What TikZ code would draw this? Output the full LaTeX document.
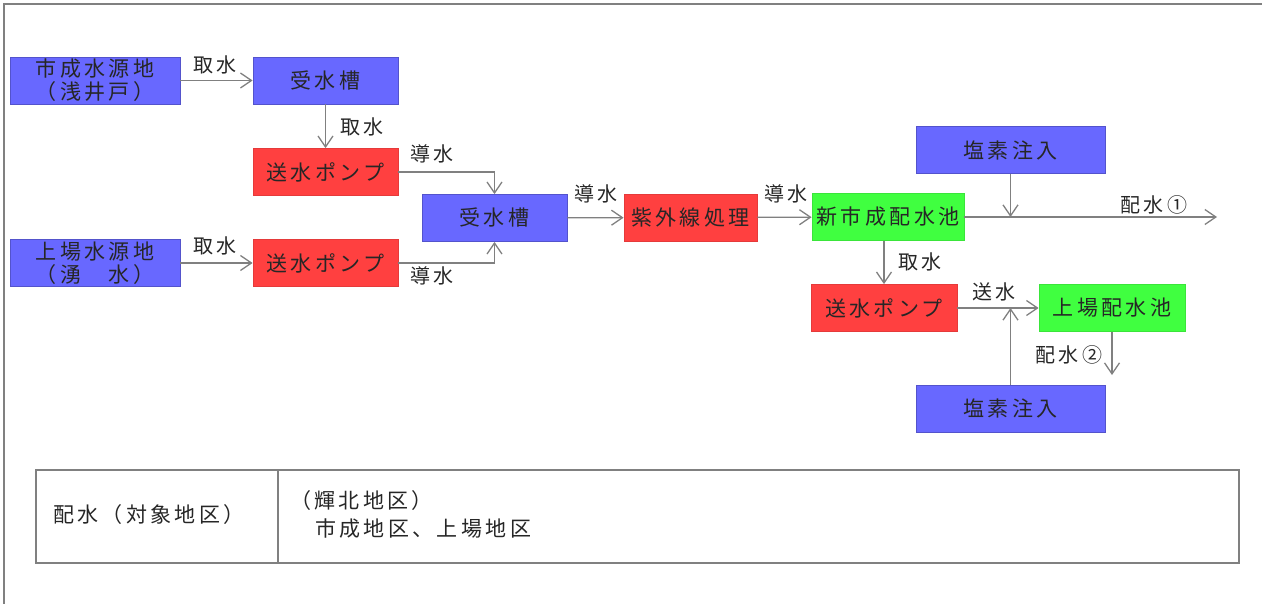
\documentclass[tikz,border=0pt]{standalone}
\usepackage{fontspec}
\setmainfont{Noto Sans CJK JP}[LetterSpace=16]
\usetikzlibrary{arrows.meta}
\definecolor{boxblue}{RGB}{104,104,255}
\definecolor{boxred}{RGB}{255,64,64}
\definecolor{boxgreen}{RGB}{64,255,64}
\definecolor{linegray}{RGB}{128,128,128}
\begin{document}
\begin{tikzpicture}[x=1pt,y=-1pt,
  box/.style={minimum height=47pt,inner sep=0pt,align=center,font=\fontsize{21}{23}\selectfont,text=black!85},
  bluebox/.style={box,fill=boxblue,draw=boxblue!80!black,line width=0.8pt},
  redbox/.style={box,fill=boxred,draw=boxred!90!black,line width=0.8pt},
  greenbox/.style={box,fill=boxgreen,draw=boxgreen!90!black,line width=0.8pt},
  flow/.style={draw=linegray,line width=1.3pt,-{Straight Barb[length=11pt,width=15pt]}},
  lbl/.style={inner sep=0pt,font=\fontsize{20}{23}\selectfont,text=black!85}]
\useasboundingbox (0,0) rectangle (1262,604);
\draw[linegray,line width=1.5pt] (4,604) -- (4,4) -- (1262,4);

% boxes
\node[bluebox,minimum width=170pt] (srcA) at (95,80.5) {市成水源地\\（浅井戸）};
\node[bluebox,minimum width=145pt] (tankA) at (325.5,80.5) {受水槽};
\node[redbox,minimum width=145pt] (pumpA) at (325.5,172) {送水ポンプ};
\node[bluebox,minimum width=170pt] (srcB) at (95,263) {上場水源地\\（湧　水）};
\node[redbox,minimum width=145pt] (pumpB) at (325.5,263) {送水ポンプ};
\node[bluebox,minimum width=145pt] (tankB) at (494.5,218) {受水槽};
\node[redbox,minimum width=133pt] (uv) at (690.5,217.5) {紫外線処理};
\node[greenbox,minimum width=152pt] (resA) at (888,217) {新市成配水池};
\node[bluebox,minimum width=189pt] (clA) at (1010.5,150) {塩素注入};
\node[redbox,minimum width=146pt] (pumpC) at (884,308) {送水ポンプ};
\node[greenbox,minimum width=146pt] (resB) at (1112,308) {上場配水池};
\node[bluebox,minimum width=189pt] (clB) at (1010.5,408.5) {塩素注入};

\coordinate (outA) at (1217,217);
\coordinate (joinA) at (1010.5,217);
\coordinate (joinB) at (1010.5,308);
\coordinate (outB) at (1112,375);

% connectors
\draw[flow] (srcA) -- (tankA);
\draw[flow] (tankA) -- (pumpA);
\draw[flow] (pumpA) -| (tankB);
\draw[flow] (srcB) -- (pumpB);
\draw[flow] (pumpB) -| (tankB);
\draw[flow] (tankB) -- (uv);
\draw[flow] (uv) -- (resA);
\draw[flow] (resA) -- (outA);
\draw[flow] (clA) -- (joinA);
\draw[flow] (resA.south -| pumpC) -- (pumpC);
\draw[flow] (pumpC) -- (resB);
\draw[flow] (clB) -- (joinB);
\draw[flow] (resB.south) -- (outB);

% labels
\node[lbl] (lblA) at (215,65) {取水};
\node[lbl] (lblB) at (362,127) {取水};
\node[lbl] (lblC) at (432,154) {導水};
\node[lbl] (lblD) at (215,246) {取水};
\node[lbl] (lblE) at (432,275.5) {導水};
\node[lbl] (lblF) at (596,194) {導水};
\node[lbl] (lblG) at (786,194) {導水};
\node[lbl] (lblH) at (1154,205) {配水①};
\node[lbl] (lblI) at (920,262) {取水};
\node[lbl] (lblJ) at (994,292) {送水};
\node[lbl] (lblK) at (1069,355) {配水②};

% table
\draw[linegray,line width=1.2pt] (36,470) rectangle (1239,563);
\draw[linegray,line width=1.2pt] (278,470) -- (278,563);
\node[lbl,anchor=west,font=\fontsize{21}{23}\selectfont] (areaHead) at (53,515) {配水（対象地区）};
\node[lbl,anchor=west,align=left,font=\fontsize{21}{28}\selectfont] (areaList) at (290,514)
  {（輝北地区）\\\hspace{25pt}市成地区、上場地区};
\end{tikzpicture}
\end{document}
